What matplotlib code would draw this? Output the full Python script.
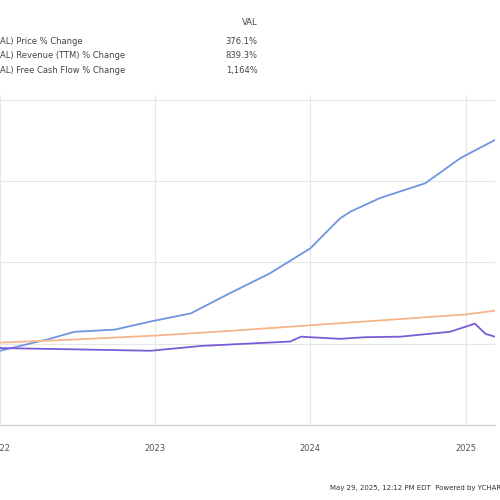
import matplotlib.pyplot as plt

# values (years, % change)
price_t = [2022.0, 2022.32, 2022.48, 2022.74, 2022.97, 2023.23, 2023.48, 2023.74, 2024.0, 2024.19, 2024.26, 2024.45, 2024.74, 2024.97, 2025.19]
price_v = [-13, 9, 22, 26, 41, 56, 93, 130, 176, 231, 244, 269, 296, 343, 376]
rev_t = [2022.0, 2022.5, 2023.0, 2023.5, 2024.0, 2024.5, 2025.0, 2025.19]
rev_v = [2, 8, 15, 24, 34, 44, 54, 61]
fcf_t = [2022.0, 2022.4, 2022.97, 2023.3, 2023.87, 2023.94, 2024.19, 2024.35, 2024.58, 2024.9, 2025.06, 2025.13, 2025.19]
fcf_v = [-8, -10, -13, -4, 4, 13, 9, 12, 13, 22, 37, 18, 13]

fig = plt.figure(figsize=(5, 5), dpi=100)
ax = fig.add_axes([0, 0.15, 0.99, 0.66])
ax.plot(price_t, price_v, color="#6d95e0", lw=1.3)
ax.plot(rev_t, rev_v, color="#f6b48a", lw=1.3)
ax.plot(fcf_t, fcf_v, color="#7a5cd6", lw=1.3)
ax.set_xlim(2022.0, 2025.19)
ax.set_ylim(-150, 459)
ax.set_yticks([-150, 0, 150, 300, 450])
ax.set_yticklabels([])
ax.set_xticks([2022, 2023, 2024, 2025])
ax.set_xticklabels(["2022", "2023", "2024", "2025"], fontsize=6, color="#555555")
ax.tick_params(length=0, pad=14)
ax.grid(True, color="#e6e6e6", lw=0.8)
for s in ["top", "right", "left"]:
    ax.spines[s].set_visible(False)
ax.spines["bottom"].set_color("#cccccc")

labels = ["AL) Price % Change", "AL) Revenue (TTM) % Change", "AL) Free Cash Flow % Change"]
vals = ["376.1%", "839.3%", "1,164%"]
fig.text(0.515, 0.95, "VAL", fontsize=6, color="#444444", ha="right")
for i, (l, v) in enumerate(zip(labels, vals)):
    y = 0.912 - i * 0.029
    fig.text(0.0, y, l, fontsize=6, color="#444444")
    fig.text(0.515, y, v, fontsize=6, color="#444444", ha="right")
fig.text(0.66, 0.02, "May 29, 2025, 12:12 PM EDT  Powered by YCHARTS", fontsize=5, color="#333333")
fig.savefig("out.png")
